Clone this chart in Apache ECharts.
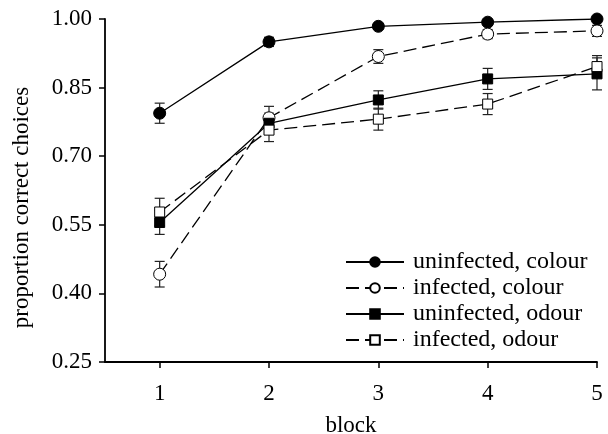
<!DOCTYPE html>
<html><head><meta charset="utf-8">
<script src="https://cdn.jsdelivr.net/npm/echarts@6/dist/echarts.min.js"></script>
<style>html,body{margin:0;padding:0;background:#fff}#c{width:608px;height:434px}</style>
</head><body><div id="c"></div>
<script>
const blocks = [1, 2, 3, 4, 5];
const xTicks = [1, 2, 3, 4, 5];
const yTicks = [0.25, 0.40, 0.55, 0.70, 0.85, 1.00];
const seriesNames = ['uninfected, colour', 'infected, colour', 'uninfected, odour', 'infected, odour'];
const uninfColour = [0.794, 0.950, 0.984, 0.993, 1.000];
const uninfColourErr = [0.022, 0.010, 0.006, 0.006, 0.005];
const infColour = [0.442, 0.784, 0.918, 0.967, 0.974];
const infColourErr = [0.028, 0.025, 0.015, 0.010, 0.012];
const uninfOdour = [0.555, 0.772, 0.823, 0.869, 0.880];
const uninfOdourErr = [0.026, 0.022, 0.020, 0.023, 0.035];
const infOdour = [0.578, 0.757, 0.781, 0.814, 0.896];
const infOdourErr = [0.030, 0.025, 0.024, 0.023, 0.024];

const FONT = 'Liberation Serif';
const means = [uninfColour, infColour, uninfOdour, infOdour];
const errs = [uninfColourErr, infColourErr, uninfOdourErr, infOdourErr];
const styles = [
  {symbol: 'circle', size: 12, fill: '#000', dash: 'solid'},
  {symbol: 'circle', size: 12, fill: '#fff', dash: [13, 6]},
  {symbol: 'rect', size: 10, fill: '#000', dash: 'solid'},
  {symbol: 'rect', size: 10, fill: '#fff', dash: [13, 6]}
];

const series = [];
means.forEach((m, i) => {
  const e = errs[i];
  series.push({
    type: 'custom', silent: true, z: 1,
    data: blocks.map((b, j) => [b, m[j] - e[j], m[j] + e[j]]),
    renderItem: function (params, api) {
      const lo = api.coord([api.value(0), api.value(1)]);
      const hi = api.coord([api.value(0), api.value(2)]);
      const w = 5;
      const st = {stroke: '#222', lineWidth: 1.2};
      return {type: 'group', children: [
        {type: 'line', shape: {x1: lo[0], y1: lo[1], x2: hi[0], y2: hi[1]}, style: st},
        {type: 'line', shape: {x1: lo[0] - w, y1: lo[1], x2: lo[0] + w, y2: lo[1]}, style: st},
        {type: 'line', shape: {x1: hi[0] - w, y1: hi[1], x2: hi[0] + w, y2: hi[1]}, style: st}
      ]};
    }
  });
});
means.forEach((m, i) => {
  const s = styles[i];
  series.push({
    name: seriesNames[i], type: 'line', z: 3,
    data: blocks.map((b, j) => [b, m[j]]),
    symbol: s.symbol, symbolSize: s.size, showAllSymbol: true,
    lineStyle: {color: '#000', width: 1.3, type: s.dash},
    itemStyle: {color: s.fill, borderColor: '#000', borderWidth: 1},
    emphasis: {disabled: true}, animation: false
  });
});

const chart = echarts.init(document.getElementById('c'), null, {renderer: 'canvas'});
chart.setOption({
  animation: false,
  backgroundColor: '#fff',
  grid: {left: 105, right: 11, top: 19, bottom: 72, containLabel: false, outerBoundsMode: 'none'},
  legend: {
    data: seriesNames,
    orient: 'vertical', left: 340, top: 245, itemGap: 2, itemWidth: 58, itemHeight: 12,
    textStyle: {fontFamily: FONT, fontSize: 24, color: '#000', padding: [0, 0, 0, 4]},
    selectedMode: false
  },
  xAxis: {
    type: 'value', min: 0.5, max: 5,
    name: 'block', nameLocation: 'middle', nameGap: 52,
    nameTextStyle: {fontFamily: FONT, fontSize: 23, color: '#000'},
    axisLine: {lineStyle: {color: '#000', width: 1.8}},
    axisTick: {show: true, length: 6, customValues: xTicks, lineStyle: {color: '#000', width: 1.5}},
    axisLabel: {customValues: xTicks, margin: 20, fontFamily: FONT, fontSize: 23, color: '#000'},
    splitLine: {show: false}
  },
  yAxis: {
    type: 'value', min: 0.25, max: 1.0,
    name: 'proportion correct choices', nameLocation: 'middle', nameGap: 72,
    nameTextStyle: {fontFamily: FONT, fontSize: 23, color: '#000', padding: [0, 34, 0, 0]},
    axisLine: {show: true, lineStyle: {color: '#000', width: 1.8}},
    axisTick: {show: true, length: 6, customValues: yTicks, lineStyle: {color: '#000', width: 1.5}},
    axisLabel: {customValues: yTicks, margin: 13, fontFamily: FONT, fontSize: 23, color: '#000',
      formatter: v => v.toFixed(2)},
    splitLine: {show: false}
  },
  series: series
});
</script></body></html>
